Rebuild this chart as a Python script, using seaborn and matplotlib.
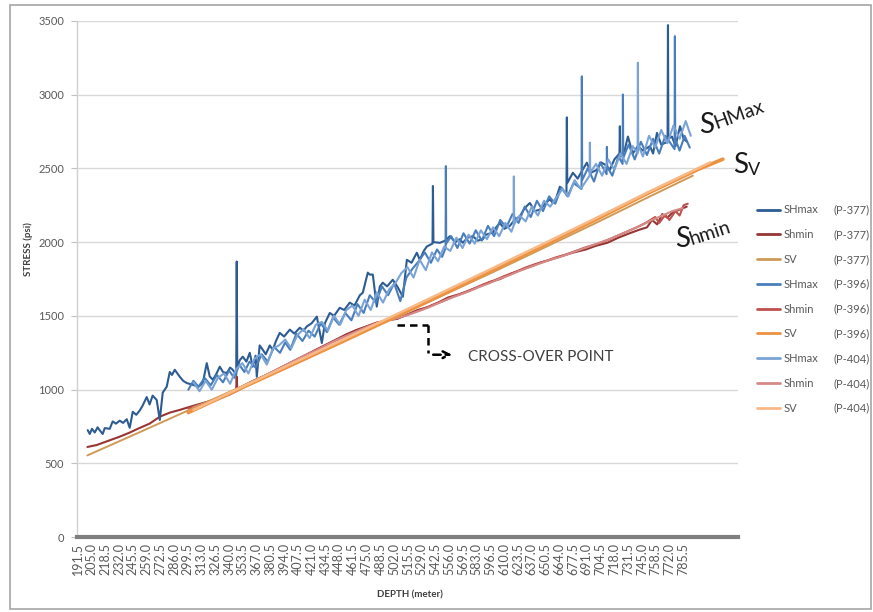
import matplotlib
matplotlib.use("Agg")
import matplotlib.pyplot as plt
import seaborn as sns
import pandas as pd
from matplotlib.patches import Rectangle

# ---------------- data ----------------
depth_ticks = [191.5, 205.0, 218.5, 232.0, 245.5, 259.0, 272.5, 286.0, 299.5, 313.0,
               326.5, 340.0, 353.5, 367.0, 380.5, 394.0, 407.5, 421.0, 434.5, 448.0,
               461.5, 475.0, 488.5, 502.0, 515.5, 529.0, 542.5, 556.0, 569.5, 583.0,
               596.5, 610.0, 623.5, 637.0, 650.5, 664.0, 677.5, 691.0, 704.5, 718.0,
               731.5, 745.0, 758.5, 772.0, 785.5]
stress_ticks = [0, 500, 1000, 1500, 2000, 2500, 3000, 3500]

# SHmax P-377
d_shmax_377 = [201.3, 203.3, 205.5, 208.2, 211, 213.1, 216, 218.0, 222.9, 225.8, 229, 232.7, 236,
               239.6, 242.5, 245.5, 249, 252.4, 255, 259.2, 262, 265, 269.0, 272.0, 274.9, 278.8,
               281.8, 284, 286.7, 291.6, 295, 298.5, 304.4, 310, 314.2, 318.1, 321, 324.0, 327,
               330.9, 334, 337.7, 341, 343.6, 347.0, 347.5, 348.0, 350.5, 353.4, 357, 360.3, 363.2,
               366, 367.2, 370, 373.1, 376, 379.9, 382.9, 386, 389.7, 394, 399.6, 404, 409.4, 413,
               416.2, 421, 426.1, 431.0, 434, 438.8, 443, 448.6, 453, 458.4, 463, 468.3, 471.2,
               476.1, 478, 481.0, 484.9, 487.9, 490.8, 495, 500.6, 505, 510.5, 514.4, 519, 524.2,
               527.1, 531, 534.0, 539.6, 540.0, 540.5, 546.8, 552, 556.6, 562, 566.4, 569.3, 574,
               579.1, 584, 589.0, 592, 598.8, 602, 605.7, 610, 615.5, 620, 625.3, 630, 635.1, 640,
               644.9, 650, 654.7, 657.7, 661, 664.5, 668, 671.0, 671.4, 671.8, 677.3, 682, 686,
               691.0, 695, 700.9, 705, 710, 713.6, 718, 723.0, 723.4, 723.8, 728, 731.3, 736, 741,
               746, 752.9, 756, 759.8, 764, 770.2, 770.6, 771.0, 774.5, 778, 782.4, 786, 789.2]
shmax_377 = [726, 700, 735, 710, 745, 725, 700, 740, 735, 785, 770, 790, 775,
             800, 742, 850, 830, 860, 890, 950, 900, 960, 930, 795, 980, 1020,
             1120, 1100, 1135, 1088, 1060, 1045, 1033, 1020, 1045, 1180, 1090, 1068, 1100,
             1156, 1120, 1112, 1150, 1135, 1100, 1868, 1150, 1200, 1224, 1190, 1250, 1156,
             1230, 1088, 1300, 1270, 1240, 1300, 1270, 1330, 1385, 1360, 1407, 1380, 1420, 1400,
             1428, 1450, 1495, 1316, 1450, 1520, 1500, 1555, 1540, 1590, 1570, 1640, 1657,
             1793, 1780, 1780, 1563, 1700, 1725, 1700, 1745, 1700, 1630, 1880, 1860, 1928,
             1880, 1940, 1970, 1990, 2380, 2000, 1995, 2010, 2040, 2000, 2020, 1995, 2030,
             2040, 2010, 2020, 2050, 2065, 2100, 2130, 2090, 2110, 2150, 2175, 2230, 2265, 2210,
             2220, 2260, 2290, 2265, 2300, 2375, 2350, 2330, 2845, 2400, 2470, 2430, 2480,
             2538, 2470, 2490, 2540, 2520, 2490, 2560, 2600, 2785, 2580, 2620, 2715, 2600, 2650,
             2620, 2650, 2600, 2740, 2660, 2680, 3470, 2700, 2715, 2650, 2785, 2700, 2680]

# SHmax P-396
d_shmax_396 = [300, 305, 310, 316, 322, 328, 334, 340, 345, 350, 355, 360, 366, 372, 378, 384,
               390, 395, 400, 406, 412, 418, 424, 430, 436, 442, 448, 454, 460, 466, 472, 478,
               484, 490, 496, 502, 508, 514, 520, 526, 532, 538, 544, 549, 552.4, 552.7, 553.0,
               558, 564, 570, 576, 582, 588, 594, 600, 606, 612, 618, 624, 630, 636, 642, 648,
               654, 660, 666, 672, 678, 685.8, 686.1, 686.4, 692, 698, 704, 710.4, 710.7, 711.0,
               716, 722, 726.1, 726.4, 726.7, 732, 738, 744, 750, 756, 762, 768, 777.1, 777.4,
               777.7, 782, 787, 792]
shmax_396 = [1000, 1060, 1020, 1080, 1030, 1100, 1050, 1130, 1080, 1170, 1120, 1190, 1150, 1240, 1190, 1290,
             1250, 1320, 1270, 1380, 1330, 1400, 1360, 1450, 1390, 1490, 1440, 1520, 1470, 1580, 1520, 1640,
             1590, 1700, 1640, 1720, 1600, 1760, 1820, 1870, 1930, 1860, 1950, 1900, 1960, 2515, 1990,
             2040, 1960, 2060, 1990, 2080, 2010, 2110, 2040, 2150, 2100, 2190, 2130, 2240, 2170, 2280, 2210,
             2310, 2260, 2370, 2310, 2400, 2360, 3123, 2420, 2500, 2410, 2540, 2460, 2645, 2510,
             2450, 2580, 2530, 3000, 2570, 2660, 2560, 2680, 2590, 2700, 2600, 2720, 2630, 3395,
             2700, 2620, 2720, 2640]

# SHmax P-404
d_shmax_404 = [305, 311, 317, 323, 329, 335, 341, 347, 353, 359, 365, 371, 377, 383, 389, 395,
               401, 407, 413, 419, 425, 431, 437, 443, 449, 455, 461, 467, 473, 479, 485, 491,
               497, 503, 509, 515, 521, 527, 533, 539, 545, 551, 557, 563, 569, 575, 581, 587,
               593, 599, 605, 611, 617, 619.1, 619.4, 619.7, 625, 631, 637, 643, 649, 655, 661,
               667, 673, 679, 685, 693.7, 694.0, 694.3, 700, 706, 712, 718, 724, 730, 736, 740.8,
               741.1, 741.4, 746, 752, 758, 764, 770, 776, 782, 788, 793]
shmax_404 = [1050, 990, 1060, 1000, 1080, 1110, 1040, 1140, 1180, 1110, 1210, 1240, 1170, 1280, 1300, 1340,
             1280, 1370, 1410, 1350, 1440, 1460, 1400, 1500, 1440, 1540, 1570, 1500, 1610, 1540, 1660, 1590,
             1680, 1720, 1790, 1830, 1760, 1880, 1810, 1930, 1870, 1970, 1940, 2030, 1960, 2050, 1990, 2080,
             2020, 2100, 2040, 2130, 2070, 2110, 2445, 2120, 2180, 2140, 2240, 2180, 2280, 2240, 2300,
             2360, 2310, 2420, 2360, 2450, 2674, 2470, 2530, 2450, 2560, 2490, 2600, 2530, 2650, 2600,
             3215, 2660, 2580, 2720, 2640, 2760, 2670, 2790, 2700, 2820, 2720]

# Shmin
d_shmin_377 = [201, 210, 220, 232, 242, 252, 262, 272, 282, 292, 302, 312, 322, 332, 340, 347, 347.5,
               348, 355, 365, 375, 385, 395, 405, 415, 425, 435, 445, 455, 465, 475, 485, 495, 505,
               515, 525, 535, 545, 555, 565, 575, 586, 596, 606, 616, 626, 636, 645, 655, 665, 677,
               690, 700, 711, 722, 733, 743, 750, 755, 760, 765, 770, 775, 782, 789]
shmin_377 = [612, 625, 650, 680, 708, 740, 770, 817, 845, 864, 885, 905, 925, 945, 975, 1000, 1088,
             1005, 1030, 1065, 1095, 1130, 1165, 1200, 1235, 1270, 1305, 1340, 1375, 1405, 1430, 1455, 1470, 1480,
             1510, 1540, 1560, 1590, 1625, 1645, 1670, 1700, 1730, 1750, 1785, 1810, 1835, 1860, 1880, 1902, 1928,
             1950, 1975, 1995, 2030, 2060, 2085, 2100, 2150, 2120, 2190, 2165, 2200, 2220, 2240]

d_shmin_396 = [300, 310, 320, 330, 340, 350, 360, 370, 380, 390, 400, 410, 420, 430, 440, 450, 460,
               470, 480, 490, 500, 510, 520, 530, 540, 550, 560, 570, 580, 590, 600, 610, 620, 630,
               640, 650, 660, 670, 680, 690, 700, 710, 720, 730, 740, 750, 758, 762, 768, 772, 778,
               782, 786, 790]
shmin_396 = [872, 895, 915, 940, 965, 1000, 1040, 1075, 1110, 1145, 1180, 1215, 1250, 1285, 1318, 1350, 1380,
             1410, 1440, 1460, 1478, 1495, 1520, 1545, 1575, 1600, 1630, 1655, 1685, 1715, 1740, 1770, 1795, 1825,
             1850, 1870, 1895, 1915, 1940, 1965, 1985, 2010, 2040, 2070, 2100, 2135, 2170, 2130, 2185, 2150, 2210,
             2180, 2250, 2260]

d_shmin_404 = [305, 315, 325, 335, 345, 355, 365, 375, 385, 395, 405, 415, 425, 435, 445, 455, 465,
               475, 485, 495, 505, 515, 525, 535, 545, 555, 565, 575, 585, 595, 605, 615, 625, 635,
               645, 655, 665, 675, 685, 695, 705, 715, 725, 735, 745, 755, 765, 775, 785]
shmin_404 = [880, 905, 925, 950, 985, 1020, 1060, 1095, 1130, 1165, 1200, 1235, 1265, 1300, 1335, 1365, 1395,
             1425, 1450, 1468, 1485, 1505, 1530, 1555, 1585, 1615, 1640, 1665, 1695, 1720, 1750, 1775, 1805, 1830,
             1855, 1880, 1900, 1925, 1950, 1975, 2000, 2025, 2055, 2085, 2115, 2150, 2180, 2210, 2230]

# SV
d_sv_377 = [201, 250, 300, 350, 400, 450, 500, 550, 600, 650, 700, 750, 795]
sv_377 = [555, 705, 860, 1015, 1170, 1325, 1480, 1640, 1800, 1965, 2130, 2300, 2450]
d_sv_396 = [300, 350, 400, 450, 500, 550, 600, 650, 700, 750, 800, 824.5]
sv_396 = [845, 1005, 1163, 1322, 1484, 1648, 1814, 1983, 2153, 2328, 2492, 2562]
d_sv_404 = [305, 350, 400, 450, 500, 550, 600, 650, 700, 750, 800, 812]
sv_404 = [862, 1010, 1172, 1333, 1497, 1662, 1828, 1994, 2163, 2334, 2500, 2540]

# ---------------- style ----------------
sns.set_theme(style="white")
plt.rcParams['font.family'] = ['Lato', 'DejaVu Sans']

W, H = 873, 612
fig = plt.figure(figsize=(W / 100, H / 100), dpi=100)
fig.patch.set_facecolor("white")
x0, x1, y0, y1 = 76.7, 738.2, 537.3, 20.7
ax = fig.add_axes([x0 / W, 1 - y0 / H, (x1 - x0) / W, (y0 - y1) / H])

series = [
    ("SHmax", "P-377", d_shmax_377, shmax_377, "#2d5c92", 1.5, 5),
    ("Shmin", "P-377", d_shmin_377, shmin_377, "#963634", 1.5, 2),
    ("SV", "P-377", d_sv_377, sv_377, "#cf9a58", 1.4, 3),
    ("SHmax", "P-396", d_shmax_396, shmax_396, "#4a7ebb", 1.5, 5),
    ("Shmin", "P-396", d_shmin_396, shmin_396, "#c0504d", 1.5, 2),
    ("SV", "P-396", d_sv_396, sv_396, "#ec9240", 2.6, 3),
    ("SHmax", "P-404", d_shmax_404, shmax_404, "#7aa3d6", 1.5, 5),
    ("Shmin", "P-404", d_shmin_404, shmin_404, "#d58a88", 1.5, 2),
    ("SV", "P-404", d_sv_404, sv_404, "#f8b987", 1.8, 3),
]

handles = []
for name, well, d, v, color, lw, z in series:
    df = pd.DataFrame({"depth": d, "stress": v})
    sns.lineplot(data=df, x="depth", y="stress", ax=ax, color=color, linewidth=lw,
                 estimator=None, sort=False, zorder=z, label=f"{name} {well}")
    handles.append(ax.get_lines()[-1])

ax.set_xlim(190.5, 839.5)
ax.set_ylim(0, 3500)
ax.set_xticks(depth_ticks)
ax.set_xticklabels([f"{t:.1f}" for t in depth_ticks], rotation=90)
ax.set_yticks(stress_ticks)
ax.tick_params(axis="x", labelsize=9, colors="#595959", length=0, pad=4)
ax.tick_params(axis="y", labelsize=8, colors="#595959", length=4, width=0.8, pad=5,
               color="#bfbfbf", left=True)
ax.yaxis.grid(True, color="#d9d9d9", linewidth=1)
ax.xaxis.grid(False)
ax.set_axisbelow(True)
for s in ["top", "right"]:
    ax.spines[s].set_visible(False)
ax.spines["left"].set_color("#d0d0d0")
ax.spines["left"].set_linewidth(1)
ax.spines["bottom"].set_color("#7f7f7f")
ax.spines["bottom"].set_linewidth(3)

ax.set_ylabel("STRESS (psi)", fontsize=7, fontweight="bold", color="#404040")
ax.yaxis.set_label_coords((33 - x0) / (x1 - x0), (y0 - 249) / (y0 - y1))
ax.set_xlabel("DEPTH (meter)", fontsize=7, fontweight="bold", color="#404040")
ax.xaxis.set_label_coords((410 - x0) / (x1 - x0), (y0 - 590) / (y0 - y1))

# legend
leg = ax.legend(handles, [s[0] for s in series], loc="upper left",
                bbox_to_anchor=(752.6 / W, 1 - 200 / H), bbox_transform=fig.transFigure,
                frameon=False, fontsize=8, handlelength=2.1, handletextpad=0.3,
                labelspacing=1.24, borderaxespad=0)
for t in leg.get_texts():
    t.set_color("#595959")
for lh in leg.get_lines():
    lh.set_linewidth(2)

# cross-over annotation
ax.plot([504.6, 535.0], [1440, 1440], color="black", ls=(0, (3, 2)), lw=1.8, zorder=6)
ax.plot([535.0, 535.0], [1440, 1250], color="black", ls=(0, (3, 2)), lw=1.8, zorder=6)
ax.annotate("", xy=(561.5, 1237), xytext=(537.5, 1237),
            arrowprops=dict(arrowstyle="->", color="black", lw=1.8, linestyle=(0, (3, 2))))
ax.text(574.3, 1224, "CROSS-OVER POINT", fontsize=11, color="#404040", va="center", ha="left")

# curve labels
def fx(px):
    return px / W

def fy(py):
    return 1 - py / H

tc = "#1a1a1a"
fig.text(fx(699), fy(133), "S", fontsize=20, color=tc, va="baseline", ha="left")
fig.text(fx(716), fy(129), "HMax", fontsize=14, color=tc, va="baseline", ha="left",
         rotation=20, rotation_mode="anchor")
fig.text(fx(733), fy(173), "S", fontsize=20, color=tc, va="baseline", ha="left")
fig.text(fx(748), fy(175), "V", fontsize=13, color=tc, va="baseline", ha="left")
fig.text(fx(675), fy(247), "S", fontsize=20, color=tc, va="baseline", ha="left")
fig.text(fx(692), fy(245), "hmin", fontsize=14, color=tc, va="baseline", ha="left",
         rotation=18, rotation_mode="anchor")

# well ids next to the legend labels
fig.canvas.draw()
inv = fig.transFigure.inverted()
for t, s in zip(leg.get_texts(), series):
    bb = t.get_window_extent()
    yc = (bb.y0 + bb.y1) / 2
    fig.text(fx(834), inv.transform((0, yc))[1], f"({s[1]})", fontsize=8, color="#595959",
             va="center", ha="left")

# outer frame
fig.patches.append(Rectangle((fx(10), fy(609)), (871 - 10) / W, (609 - 5) / H,
                             transform=fig.transFigure, fill=False, ec="#a6a6a6", lw=1.2))

fig.savefig("out.png", dpi=100)
